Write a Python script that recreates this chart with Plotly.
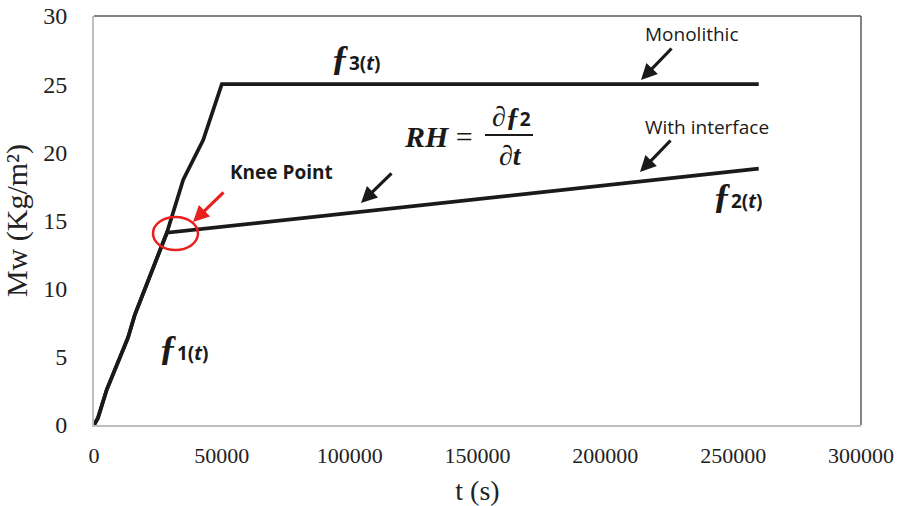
import plotly.graph_objects as go

# ---- data ----
mono_t = [0, 1500, 5000, 13300, 16000, 28500, 34900, 42700, 50000, 260000]
mono_y = [0, 0.5, 2.6, 6.4, 8.1, 14.1, 18.0, 20.9, 25.0, 25.0]
intf_t = [0, 1500, 5000, 13300, 16000, 28500, 260000]
intf_y = [0, 0.5, 2.6, 6.4, 8.1, 14.1, 18.8]
x_ticks = [0, 50000, 100000, 150000, 200000, 250000, 300000]
y_ticks = [0, 5, 10, 15, 20, 25, 30]

serif = "Liberation Serif"
sans = "Open Sans"
ink = "#1a1a1a"

fig = go.Figure()
fig.add_trace(go.Scatter(x=mono_t, y=mono_y, mode="lines", name="Monolithic",
                         line=dict(color=ink, width=3.7)))
fig.add_trace(go.Scatter(x=intf_t, y=intf_y, mode="lines", name="With interface",
                         line=dict(color=ink, width=3.7)))

def px2t(px):
    return (px - 94) / 767 * 300000

def py2y(py):
    return (425 - py) / 409 * 30

def flabel(n, x, y):
    return dict(x=x, y=y, xref="x", yref="y", showarrow=False,
                text=f"<span style='font-size:36px;font-family:{serif}'><b><i>ƒ</i></b></span>"
                     f"<b>{n}(<i>t</i>)</b>",
                font=dict(family=sans, size=19, color=ink))

def arrow(x, y, ax, ay, color=ink):
    return dict(x=x, y=y, xref="x", yref="y", ax=ax, ay=ay, axref="pixel", ayref="pixel",
                text="", showarrow=True, arrowhead=2, arrowsize=1, arrowwidth=3.2,
                arrowcolor=color)

annotations = [
    flabel(3, px2t(356), py2y(58)),
    flabel(2, px2t(738), py2y(196)),
    flabel(1, px2t(184), py2y(348)),
    dict(x=px2t(281), y=py2y(172), xref="x", yref="y", showarrow=False,
         text="<b>Knee Point</b>", font=dict(family=sans, size=19, color=ink)),
    dict(x=px2t(692), y=py2y(34), xref="x", yref="y", showarrow=False,
         text="Monolithic", font=dict(family=sans, size=19, color=ink)),
    dict(x=px2t(707), y=py2y(127), xref="x", yref="y", showarrow=False,
         text="With interface", font=dict(family=sans, size=19, color=ink)),
    dict(x=px2t(438), y=py2y(136), xref="x", yref="y", showarrow=False,
         text="<b><i>RH</i></b> =", font=dict(family=serif, size=30, color=ink)),
    dict(x=px2t(511), y=py2y(116), xref="x", yref="y", showarrow=False,
         text="<b>∂<i>ƒ</i></b><span style='font-family:Open Sans;font-size:19px'><b>2</b></span>",
         font=dict(family=serif, size=28, color=ink)),
    dict(x=px2t(510), y=py2y(155), xref="x", yref="y", showarrow=False,
         text="<b>∂<i>t</i></b>", font=dict(family=serif, size=28, color=ink)),
    arrow(px2t(641), py2y(80), 32, -33),
    arrow(px2t(640), py2y(172), 32, -33),
    arrow(px2t(361), py2y(203), 32, -31),
    arrow(px2t(193), py2y(222), 32, -31, color="#e8201e"),
]

shapes = [
    # fraction bar
    dict(type="line", xref="x", yref="y", x0=px2t(485), x1=px2t(533),
         y0=py2y(135), y1=py2y(135), line=dict(color=ink, width=2)),
    # knee point circle
    dict(type="circle", xref="x", yref="y", x0=px2t(153), x1=px2t(198),
         y0=py2y(250), y1=py2y(217), line=dict(color="#e8201e", width=2.5)),
    # top and right borders
    dict(type="line", xref="paper", yref="paper", x0=0, x1=1, y0=1, y1=1,
         line=dict(color="#5a5a5a", width=1.5)),
    dict(type="line", xref="paper", yref="paper", x0=1, x1=1, y0=0, y1=1,
         line=dict(color="#5a5a5a", width=1.5)),
]

fig.update_layout(
    width=904, height=506,
    margin=dict(l=94, r=43, t=16, b=81),
    paper_bgcolor="white", plot_bgcolor="white",
    showlegend=False,
    annotations=annotations,
    shapes=shapes,
    xaxis=dict(range=[0, 300000], tickvals=x_ticks, ticktext=[str(v) for v in x_ticks],
               automargin=False,
               showgrid=False, zeroline=False, showline=True, linecolor="#bfbfbf", linewidth=2,
               ticks="", ticklabelstandoff=10,
               tickfont=dict(family=serif, size=22, color="#222"),
               title=dict(text="t (s)", font=dict(family=serif, size=28, color="#222"), standoff=14)),
    yaxis=dict(range=[0, 30], tickvals=y_ticks, ticktext=[str(v) for v in y_ticks],
               automargin=False,
               showgrid=False, zeroline=False, showline=True, linecolor="#bfbfbf", linewidth=2,
               ticks="", ticklabelstandoff=20,
               tickfont=dict(family=serif, size=24, color="#222"),
               title=dict(text="Mw (Kg/m²)", font=dict(family=serif, size=30, color="#222"), standoff=14)),
)

fig.write_html("out.html", config={"displayModeBar": False},
               post_script="document.body.style.margin='0';document.body.style.overflow='hidden';")
